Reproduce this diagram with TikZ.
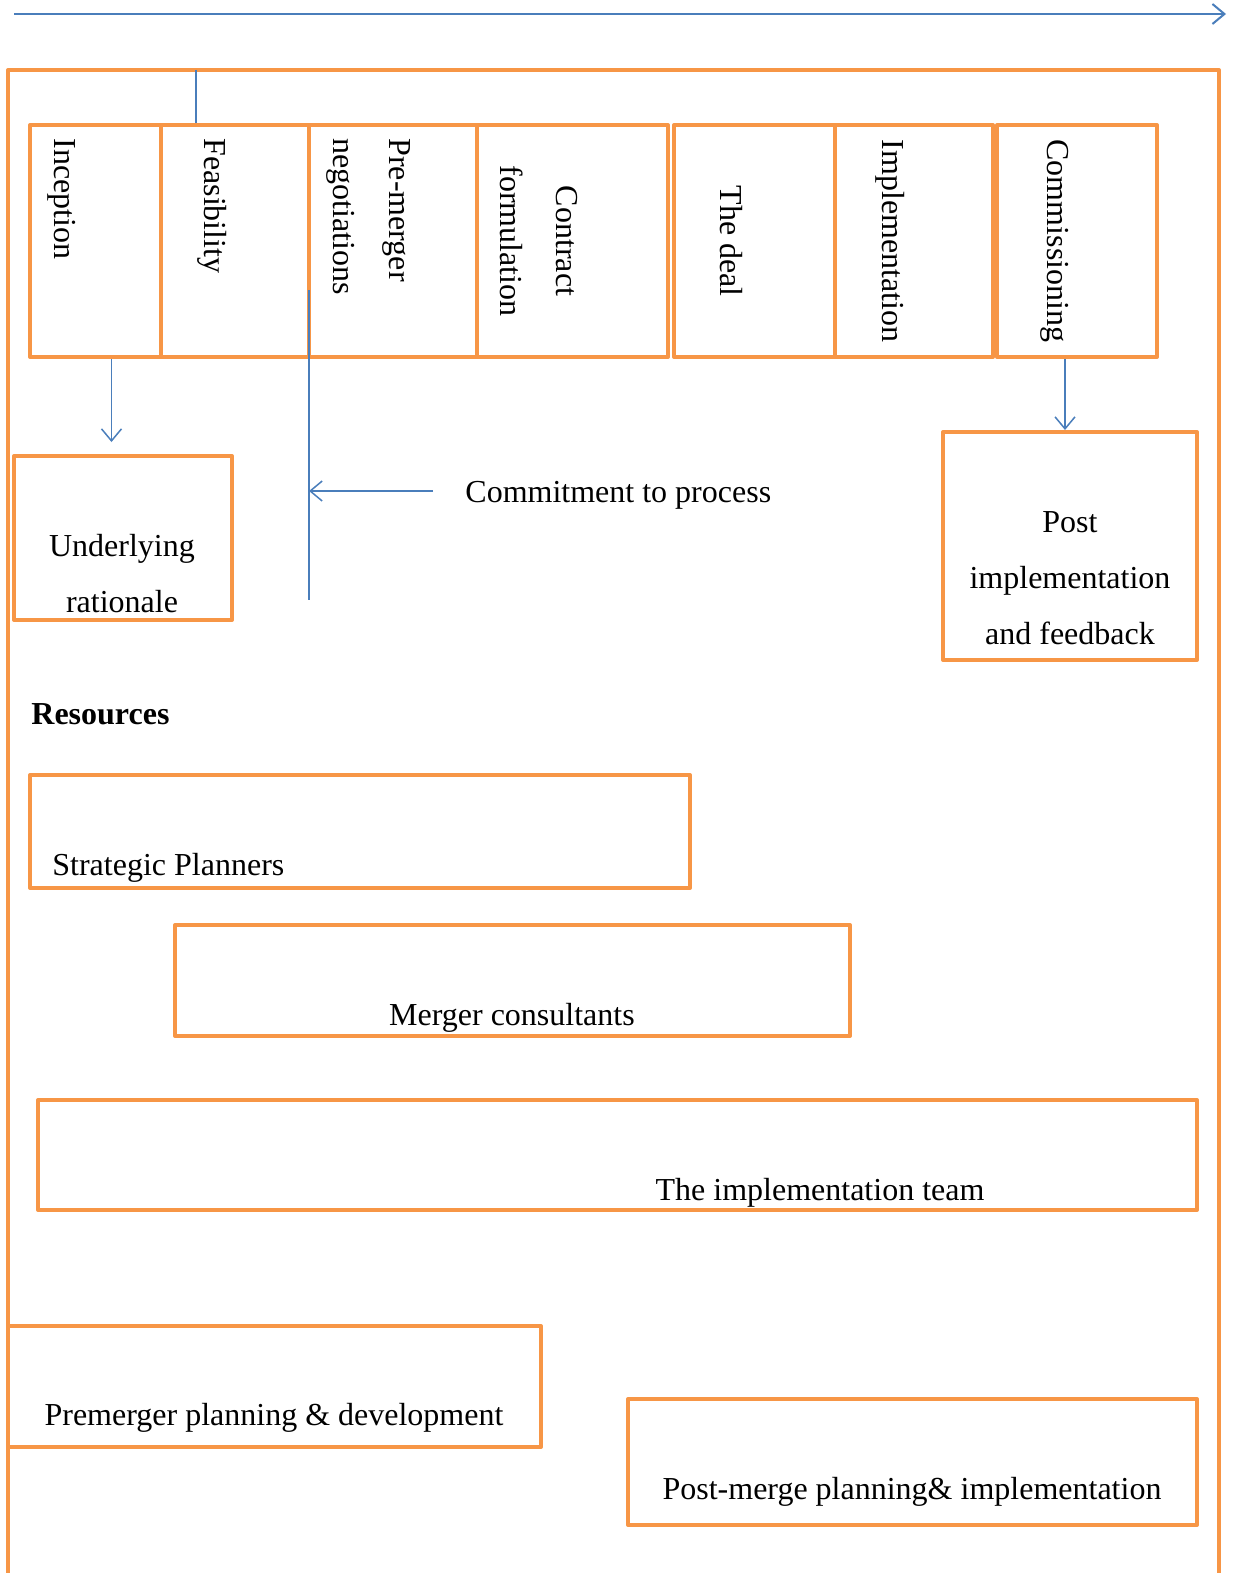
\documentclass[tikz,border=0pt]{standalone}
\usepackage{fontspec}
\setmainfont{Liberation Serif}
\usetikzlibrary{arrows.meta,fit}
\definecolor{boxorange}{HTML}{F79646}
\definecolor{lineblue}{HTML}{4A7EBB}
\tikzset{
  box/.style={draw=boxorange, line width=2pt, inner sep=0pt},
  txt/.style={inner sep=0pt, font=\fontsize{16}{28}\selectfont},
  vtxt/.style={txt, rotate=-90},
  gate/.style={draw=lineblue, line width=0.75pt},
  link/.style={gate, -{Straight Barb[length=6pt,width=10pt]}},
}
\begin{document}
\begin{tikzpicture}[x=0.5pt, y=-0.5pt, line join=round]
\useasboundingbox (0,0) rectangle (1238,1573);
% time line and frame
\draw[link, line width=1pt] (14,14) coordinate (t0) -- (1226,14) coordinate (t1);
\draw[boxorange, line width=2pt] (8,1573) -- (8,70) -- (1219,70) -- (1219,1573);
% phases
\foreach \n/\a/\b in {inc/30/161, fea/161/309, pre/309/477, con/477/668, dea/674/835, imp/835/993, com/997/1157}
  \node[box, fit={(\a,125) (\b,357)}] (\n) {};
\node[vtxt, anchor=west] (tinc) at (62,138) {Inception};
\node[vtxt, anchor=west] (tfea) at (212,138) {Feasibility};
\node[vtxt, anchor=west, align=left] (tpre) at (369,138) {Pre-merger\\negotiations};
\node[vtxt, align=center] (tcon) at (539,241) {Contract\\formulation};
\node[vtxt] (tdea) at (731,241) {The deal};
\node[vtxt] (timp) at (890,241) {Implementation};
\node[vtxt] (tcom) at (1055,241) {Commissioning};
\draw[gate] (196,70) coordinate (f0) -- (f0 |- fea.north);
% start and end
\node[box, fit={(14,456) (232,620)}] (und) {};
\node[txt, align=center] (tund) at (122,574) {Underlying\\rationale};
\node[box, fit={(943,432) (1197,660)}] (pst) {};
\node[txt, align=center] (tpst) at (1070,578) {Post\\implementation\\and feedback};
\draw[link, shorten >=6pt] ([xshift=8pt]inc.south) -- ([xshift=8pt]inc.south |- und.north);
\draw[link] ([xshift=-6pt]com.south) -- ([xshift=-6pt]com.south |- pst.north);
% commitment
\draw[gate] (309,290) coordinate (g0) -- (309,600) coordinate (g1);
\node[txt, anchor=west] (commit) at (465,495) {Commitment to process};
\draw[link] ([xshift=-16pt,yshift=2pt]commit.west) -- ([yshift=2pt]commit.west -| g0);
% resources
\node[txt, anchor=west, font=\fontsize{16}{28}\selectfont\bfseries] (res) at (31,714) {Resources};
\node[box, fit={(30,775) (690,888)}] (stp) {};
\node[txt, anchor=west] (tstp) at (52,868) {Strategic Planners};
\node[box, fit={(175,925) (850,1036)}] (mrc) {};
\node[txt] (tmrc) at (512,1018) {Merger consultants};
\node[box, fit={(38,1100) (1197,1210)}] (imt) {};
\node[txt] (timt) at (820,1193) {The implementation team};
\node[box, fit={(8,1326) (541,1447)}] (ppd) {};
\node[txt] (tppd) at (274,1418) {Premerger planning \& development};
\node[box, fit={(628,1399) (1197,1525)}] (pmi) {};
\node[txt] (tpmi) at (912,1492) {Post-merge planning\& implementation};
\end{tikzpicture}
\end{document}
